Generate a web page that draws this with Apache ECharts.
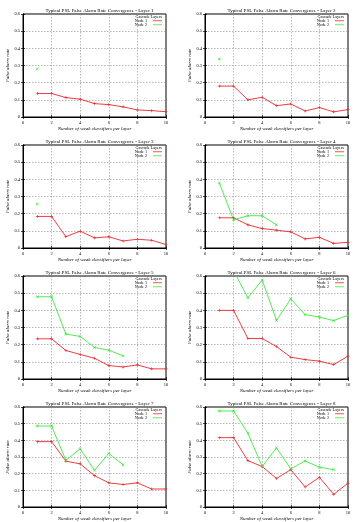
<!DOCTYPE html>
<html><head><meta charset="utf-8">
<script src="https://cdn.jsdelivr.net/npm/echarts@6/dist/echarts.min.js"></script>
<style>html,body{margin:0;padding:0;background:#fff}#c{width:356px;height:522px}</style>
</head><body><div id="c"></div>
<script>
const xValues = [1, 2, 3, 4, 5, 6, 7, 8, 9, 10];
const xTicks = [0, 2, 4, 6, 8, 10];
const yTicks = [0, 0.1, 0.2, 0.3, 0.4, 0.5, 0.6];
const layerNames = ['Layer 1','Layer 2','Layer 3','Layer 4','Layer 5','Layer 6','Layer 7','Layer 8'];
const seriesNames = ['Node 1', 'Node 2'];

const layer1Node1 = [0.137, 0.137, 0.113, 0.104, 0.078, 0.072, 0.059, 0.041, 0.037, 0.031];
const layer1Node2 = [0.28];
const layer2Node1 = [0.18, 0.18, 0.10, 0.115, 0.066, 0.076, 0.035, 0.055, 0.030, 0.043];
const layer2Node2 = [0.338];
const layer3Node1 = [0.184, 0.184, 0.066, 0.098, 0.059, 0.065, 0.041, 0.051, 0.045, 0.020];
const layer3Node2 = [0.256];
const layer4Node1 = [0.176, 0.176, 0.135, 0.113, 0.104, 0.094, 0.053, 0.062, 0.027, 0.033];
const layer4Node2 = [0.379, 0.164, 0.188, 0.188, 0.135];
const layer5Node1 = [0.234, 0.234, 0.166, 0.143, 0.121, 0.078, 0.070, 0.082, 0.059, 0.059];
const layer5Node2 = [0.479, 0.479, 0.262, 0.248, 0.184, 0.168, 0.135];
const layer6Node1 = [0.40, 0.40, 0.236, 0.236, 0.189, 0.127, 0.113, 0.104, 0.084, 0.133];
const layer6Node2 = [0.63, 0.63, 0.473, 0.576, 0.342, 0.467, 0.375, 0.361, 0.340, 0.371];
const layer7Node1 = [0.392, 0.392, 0.275, 0.259, 0.188, 0.145, 0.135, 0.145, 0.108, 0.108];
const layer7Node2 = [0.486, 0.486, 0.28, 0.349, 0.22, 0.322, 0.253];
const layer8Node1 = [0.416, 0.416, 0.278, 0.243, 0.171, 0.224, 0.120, 0.178, 0.076, 0.143];
const layer8Node2 = [0.576, 0.576, 0.443, 0.243, 0.355, 0.229, 0.276, 0.239, 0.224];

const node1Sets = [layer1Node1, layer2Node1, layer3Node1, layer4Node1, layer5Node1, layer6Node1, layer7Node1, layer8Node1];
const node2Sets = [layer1Node2, layer2Node2, layer3Node2, layer4Node2, layer5Node2, layer6Node2, layer7Node2, layer8Node2];

const FONT = 'Liberation Serif';
const colLeft = [23, 205];
const rowTop = [14, 145, 276, 407];
const plotW = 143, plotH = 103;
const colors = ['#e8282e', '#3ee83e'];
const plusPath = 'path://M4,0H6V4H10V6H6V10H4V6H0V4H4Z';
const crossPath = 'path://M1.4,0L5,3.6L8.6,0L10,1.4L6.4,5L10,8.6L8.6,10L5,6.4L1.4,10L0,8.6L3.6,5L0,1.4Z';

const grids = [], xAxes = [], yAxes = [], series = [], titles = [], legends = [];
for (let i = 0; i < 8; i++) {
  const c = i % 2, r = Math.floor(i / 2);
  const L = colLeft[c], T = rowTop[r];
  grids.push({left: L, top: T, width: plotW, height: plotH, show: true, borderColor: '#000', borderWidth: 1, backgroundColor: 'transparent'});
  xAxes.push({
    gridIndex: i, type: 'value', min: xTicks[0], max: xTicks[xTicks.length-1], interval: xTicks[1]-xTicks[0],
    position: 'bottom',
    name: 'Number of weak classifiers per layer', nameLocation: 'middle', nameGap: 9,
    nameTextStyle: {fontFamily: FONT, fontStyle: 'italic', fontSize: 5, color: '#000'},
    axisLine: {show: true, lineStyle: {color: '#000', width: 1}},
    axisTick: {show: true, inside: true, length: 2, lineStyle: {color: '#000', width: 0.7}},
    axisLabel: {fontFamily: FONT, fontSize: 4.5, color: '#000', margin: 3},
    splitLine: {show: true, lineStyle: {color: '#888', width: 0.6, type: [1.5, 1.5]}}
  });
  xAxes.push({
    gridIndex: i, type: 'value', min: xTicks[0], max: xTicks[xTicks.length-1], interval: xTicks[1]-xTicks[0],
    position: 'top',
    axisLine: {show: true, lineStyle: {color: '#000', width: 1}},
    axisTick: {show: true, inside: true, length: 2, lineStyle: {color: '#000', width: 0.7}},
    axisLabel: {show: false}, splitLine: {show: false}
  });
  yAxes.push({
    gridIndex: i, type: 'value', min: yTicks[0], max: yTicks[yTicks.length-1], interval: 0.1,
    position: 'left',
    name: 'False alarm rate', nameLocation: 'middle', nameGap: 13, nameRotate: 90,
    nameTextStyle: {fontFamily: FONT, fontStyle: 'italic', fontSize: 5, color: '#000'},
    axisLine: {show: true, lineStyle: {color: '#000', width: 1}},
    axisTick: {show: true, inside: true, length: 2, lineStyle: {color: '#000', width: 0.7}},
    axisLabel: {fontFamily: FONT, fontSize: 4.5, color: '#000', margin: 3, formatter: v => v === 0 ? '0' : v.toFixed(1)},
    splitLine: {show: true, lineStyle: {color: '#888', width: 0.6, type: [1.5, 1.5]}}
  });
  yAxes.push({
    gridIndex: i, type: 'value', min: yTicks[0], max: yTicks[yTicks.length-1], interval: 0.1,
    position: 'right',
    axisLine: {show: true, lineStyle: {color: '#000', width: 1}},
    axisTick: {show: true, inside: true, length: 2, lineStyle: {color: '#000', width: 0.7}},
    axisLabel: {show: false}, splitLine: {show: false}
  });
  const sets = [node1Sets[i], node2Sets[i]];
  sets.forEach((vals, k) => {
    series.push({
      type: 'line', name: seriesNames[k], xAxisIndex: 2*i, yAxisIndex: 2*i,
      data: vals.map((v, j) => [xValues[j], v]),
      clip: true, animation: false,
      symbol: k === 0 ? plusPath : crossPath, symbolSize: 3, showSymbol: true, showAllSymbol: true,
      lineStyle: {color: colors[k], width: 0.9},
      itemStyle: {color: colors[k]},
      emphasis: {disabled: true}
    });
  });
  titles.push({
    text: 'Typical PSL False Alarm Rate Convergence - ' + layerNames[i],
    left: L + plotW / 2, top: T - 11, textAlign: 'center',
    textStyle: {fontFamily: FONT, fontSize: 5, fontWeight: 'normal', color: '#000'}
  });
  titles.push({
    text: 'Cascade Layers', padding: 0,
    left: L + plotW - 4, top: T + 0.8, textAlign: 'right',
    textStyle: {fontFamily: FONT, fontSize: 4.2, lineHeight: 4, fontWeight: 'normal', color: '#000'}
  });
  legends.push({
    data: seriesNames.map((n, k) => ({name: n, icon: 'rect', itemStyle: {color: colors[k]}})),
    orient: 'vertical', right: 356 - (L + plotW) + 4, top: T + 4.8,
    align: 'right', itemWidth: 9, itemHeight: 0.8, itemGap: 0, padding: 0,
    textStyle: {fontFamily: FONT, fontSize: 4.2, lineHeight: 4, color: '#000', padding: [0, 1, 0, 0]},
    selectedMode: false
  });
}

const chart = echarts.init(document.getElementById('c'), null, {renderer: 'canvas'});
chart.setOption({
  animation: false,
  backgroundColor: '#fff',
  title: titles, legend: legends, grid: grids, xAxis: xAxes, yAxis: yAxes, series: series
});
</script></body></html>
